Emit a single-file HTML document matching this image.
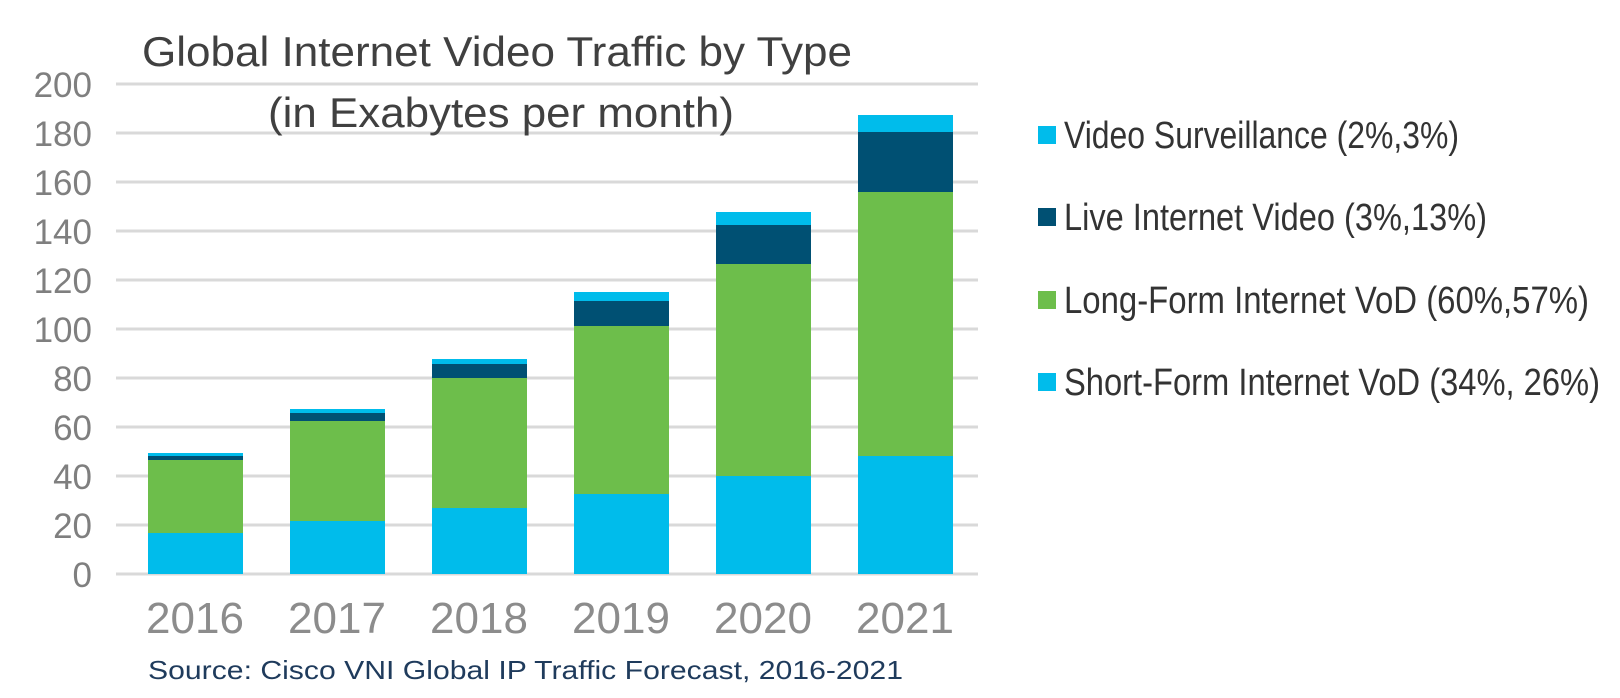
<!DOCTYPE html>
<html><head><meta charset="utf-8"><style>html,body{margin:0;padding:0;background:#fff}</style></head>
<body>
<svg width="1620" height="693" xmlns="http://www.w3.org/2000/svg" font-family="Liberation Sans, sans-serif">
<g stroke="#d9d9d9" stroke-width="3">
<line x1="116" x2="978" y1="84" y2="84"/><line x1="116" x2="978" y1="133" y2="133"/>
<line x1="116" x2="978" y1="182" y2="182"/><line x1="116" x2="978" y1="231" y2="231"/>
<line x1="116" x2="978" y1="280" y2="280"/><line x1="116" x2="978" y1="329" y2="329"/>
<line x1="116" x2="978" y1="378" y2="378"/><line x1="116" x2="978" y1="427" y2="427"/>
<line x1="116" x2="978" y1="476" y2="476"/><line x1="116" x2="978" y1="525" y2="525"/>
<line x1="116" x2="978" y1="574" y2="574"/>
</g>
<g font-size="35" fill="#7f7f7f" text-anchor="end">
<text x="92" y="97">200</text><text x="92" y="146">180</text><text x="92" y="195">160</text>
<text x="92" y="244">140</text><text x="92" y="293">120</text><text x="92" y="342">100</text>
<text x="92" y="391">80</text><text x="92" y="440">60</text><text x="92" y="489">40</text>
<text x="92" y="538">20</text><text x="92" y="587">0</text>
</g>
<g>
<rect x="148" y="533" width="95" height="41" fill="#00bceb"/><rect x="148" y="460" width="95" height="73" fill="#6dbe4b"/><rect x="148" y="456" width="95" height="4" fill="#005073"/><rect x="148" y="453" width="95" height="3" fill="#00bceb"/>
<rect x="290" y="521" width="95" height="53" fill="#00bceb"/><rect x="290" y="421" width="95" height="100" fill="#6dbe4b"/><rect x="290" y="413" width="95" height="8" fill="#005073"/><rect x="290" y="409" width="95" height="4" fill="#00bceb"/>
<rect x="432" y="508" width="95" height="66" fill="#00bceb"/><rect x="432" y="378" width="95" height="130" fill="#6dbe4b"/><rect x="432" y="364" width="95" height="14" fill="#005073"/><rect x="432" y="359" width="95" height="5" fill="#00bceb"/>
<rect x="574" y="494" width="95" height="80" fill="#00bceb"/><rect x="574" y="326" width="95" height="168" fill="#6dbe4b"/><rect x="574" y="301" width="95" height="25" fill="#005073"/><rect x="574" y="292" width="95" height="9" fill="#00bceb"/>
<rect x="716" y="476" width="95" height="98" fill="#00bceb"/><rect x="716" y="264" width="95" height="212" fill="#6dbe4b"/><rect x="716" y="225" width="95" height="39" fill="#005073"/><rect x="716" y="212" width="95" height="13" fill="#00bceb"/>
<rect x="858" y="456" width="95" height="118" fill="#00bceb"/><rect x="858" y="192" width="95" height="264" fill="#6dbe4b"/><rect x="858" y="132" width="95" height="60" fill="#005073"/><rect x="858" y="115" width="95" height="17" fill="#00bceb"/>
</g>
<g font-size="44" fill="#8c8c8c" text-anchor="middle">
<text x="195" y="633">2016</text><text x="337" y="633">2017</text><text x="479" y="633">2018</text>
<text x="621" y="633">2019</text><text x="763" y="633">2020</text><text x="905" y="633">2021</text>
</g>
<text x="148" y="679" font-size="26" fill="#1f3b5c" textLength="755" lengthAdjust="spacingAndGlyphs">Source: Cisco VNI Global IP Traffic Forecast, 2016-2021</text>
<text x="142" y="66" font-size="42" fill="#404040" textLength="710" lengthAdjust="spacingAndGlyphs">Global Internet Video Traffic by Type</text>
<text x="268" y="127" font-size="42" fill="#404040" textLength="466" lengthAdjust="spacingAndGlyphs">(in Exabytes per month)</text>
<g font-size="38" fill="#333">
<rect x="1038" y="126" width="18" height="18" fill="#00bceb"/><text x="1064" y="148" textLength="395" lengthAdjust="spacingAndGlyphs">Video Surveillance (2%,3%)</text>
<rect x="1038" y="208" width="18" height="18" fill="#005073"/><text x="1064" y="230" textLength="423" lengthAdjust="spacingAndGlyphs">Live Internet Video (3%,13%)</text>
<rect x="1038" y="291" width="18" height="18" fill="#6dbe4b"/><text x="1064" y="313" textLength="525" lengthAdjust="spacingAndGlyphs">Long-Form Internet VoD (60%,57%)</text>
<rect x="1038" y="373" width="18" height="18" fill="#00bceb"/><text x="1064" y="395" textLength="536" lengthAdjust="spacingAndGlyphs">Short-Form Internet VoD (34%, 26%)</text>
</g>
</svg>
</body></html>
